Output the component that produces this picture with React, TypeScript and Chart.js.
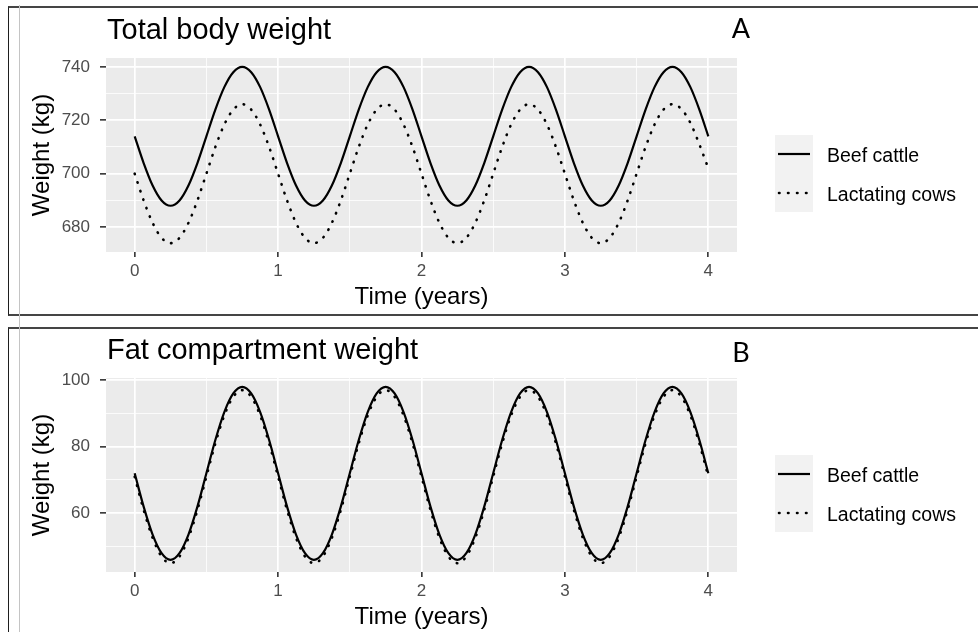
import React, { useEffect, useRef } from "react";
import { Chart, registerables } from "chart.js";

Chart.register(...registerables);

// ---------- data ----------
const timeYears = [
  0, 0.0625, 0.125, 0.1875, 0.25, 0.3125, 0.375, 0.4375,
  0.5, 0.5625, 0.625, 0.6875, 0.75, 0.8125, 0.875, 0.9375,
  1, 1.0625, 1.125, 1.1875, 1.25, 1.3125, 1.375, 1.4375,
  1.5, 1.5625, 1.625, 1.6875, 1.75, 1.8125, 1.875, 1.9375,
  2, 2.0625, 2.125, 2.1875, 2.25, 2.3125, 2.375, 2.4375,
  2.5, 2.5625, 2.625, 2.6875, 2.75, 2.8125, 2.875, 2.9375,
  3, 3.0625, 3.125, 3.1875, 3.25, 3.3125, 3.375, 3.4375,
  3.5, 3.5625, 3.625, 3.6875, 3.75, 3.8125, 3.875, 3.9375,
  4,
];

const beefTotal = [
  714, 704, 695.6, 690, 688, 690, 695.6, 704,
  714, 724, 732.4, 738, 740, 738, 732.4, 724,
  714, 704, 695.6, 690, 688, 690, 695.6, 704,
  714, 724, 732.4, 738, 740, 738, 732.4, 724,
  714, 704, 695.6, 690, 688, 690, 695.6, 704,
  714, 724, 732.4, 738, 740, 738, 732.4, 724,
  714, 704, 695.6, 690, 688, 690, 695.6, 704,
  714, 724, 732.4, 738, 740, 738, 732.4, 724,
  714,
];

const lactatingTotal = [
  700, 690, 681.6, 676, 674, 676, 681.6, 690,
  700, 710, 718.4, 724, 726, 724, 718.4, 710,
  700, 690, 681.6, 676, 674, 676, 681.6, 690,
  700, 710, 718.4, 724, 726, 724, 718.4, 710,
  700, 690, 681.6, 676, 674, 676, 681.6, 690,
  700, 710, 718.4, 724, 726, 724, 718.4, 710,
  700, 690, 681.6, 676, 674, 676, 681.6, 690,
  700, 710, 718.4, 724, 726, 724.2, 719, 711,
  702,
];

const beefFat = [
  72, 62, 53.6, 48, 46, 48, 53.6, 62,
  72, 82, 90.4, 96, 98, 96, 90.4, 82,
  72, 62, 53.6, 48, 46, 48, 53.6, 62,
  72, 82, 90.4, 96, 98, 96, 90.4, 82,
  72, 62, 53.6, 48, 46, 48, 53.6, 62,
  72, 82, 90.4, 96, 98, 96, 90.4, 82,
  72, 62, 53.6, 48, 46, 48, 53.6, 62,
  72, 82, 90.4, 96, 98, 96, 90.4, 82,
  72,
];

const lactatingFat = [
  71, 61, 52.6, 47, 45, 47, 52.6, 61,
  71, 81, 89.4, 95, 97, 95, 89.4, 81,
  71, 61, 52.6, 47, 45, 47, 52.6, 61,
  71, 81, 89.4, 95, 97, 95, 89.4, 81,
  71, 61, 52.6, 47, 45, 47, 52.6, 61,
  71, 81, 89.4, 95, 97, 95, 89.4, 81,
  71, 61, 52.6, 47, 45, 47, 52.6, 61,
  71, 81, 89.4, 95, 97, 95, 89.4, 81,
  71,
];

const seriesNames = ["Beef cattle", "Lactating cows"];

const xGridValues = [0, 0.5, 1, 1.5, 2, 2.5, 3, 3.5, 4];
const xLabelValues = [0, 1, 2, 3, 4];

const yGridTotal = [680, 690, 700, 710, 720, 730, 740];
const yLabelTotal = [680, 700, 720, 740];

const yGridFat = [50, 60, 70, 80, 90, 100];
const yLabelFat = [60, 80, 100];

const xAxisTitle = "Time (years)";
const yAxisTitle = "Weight (kg)";

// ---------- styling ----------
const FONT = '"Liberation Sans", Arial, Helvetica, sans-serif';
const CANVAS_W = 978;
const CANVAS_H = 312;
const TICK_FONT_SIZE = 17;

type PanelCfg = {
  title: string;
  tag: string;
  tagBaseline: number;
  beef: number[];
  lact: number[];
  yGrid: number[];
  yLabels: number[];
};

function expandRange(values: number[]) {
  const lo = Math.min(...values);
  const hi = Math.max(...values);
  const pad = (hi - lo) * 0.05;
  return [lo - pad, hi + pad];
}

const DOT_DASH = [0.5, 8.5];
const DOT_WIDTH = 2.6;

function decorPlugin(cfg: PanelCfg) {
  return {
    id: "panelDecor",
    beforeDraw(chart: any) {
      const { ctx, chartArea: a } = chart;
      ctx.save();
      ctx.fillStyle = "#ebebeb";
      ctx.fillRect(a.left, a.top, a.right - a.left, a.bottom - a.top);
      ctx.restore();
    },
    afterDraw(chart: any) {
      const { ctx, chartArea: a } = chart;
      ctx.save();
      // plot title
      ctx.fillStyle = "#000000";
      ctx.textAlign = "left";
      ctx.textBaseline = "alphabetic";
      ctx.font = `29px ${FONT}`;
      ctx.fillText(cfg.title, a.left + 1, 39);
      // panel tag
      ctx.font = "27px Lato, sans-serif";
      ctx.textAlign = "center";
      ctx.fillText(cfg.tag, 741, cfg.tagBaseline);

      // legend
      const keyX = 775;
      const keyTop = 135;
      ctx.fillStyle = "#f2f2f2";
      ctx.fillRect(keyX, keyTop, 38, 77);
      const rows = [154, 193];
      ctx.strokeStyle = "#000000";
      // solid key
      ctx.beginPath();
      ctx.lineWidth = 2.2;
      ctx.setLineDash([]);
      ctx.lineCap = "butt";
      ctx.moveTo(keyX + 3, rows[0]);
      ctx.lineTo(keyX + 35, rows[0]);
      ctx.stroke();
      // dotted key
      ctx.beginPath();
      ctx.lineWidth = DOT_WIDTH;
      ctx.setLineDash(DOT_DASH);
      ctx.lineCap = "round";
      ctx.moveTo(keyX + 4, rows[1]);
      ctx.lineTo(keyX + 35, rows[1]);
      ctx.stroke();
      ctx.setLineDash([]);

      ctx.fillStyle = "#000000";
      ctx.textAlign = "left";
      ctx.textBaseline = "alphabetic";
      ctx.font = `19.5px ${FONT}`;
      ctx.fillText(seriesNames[0], 827, 161.5);
      ctx.fillText(seriesNames[1], 827, 200.5);
      ctx.restore();
    },
  };
}

function Panel({ cfg, top }: { cfg: PanelCfg; top: number }) {
  const ref = useRef<HTMLCanvasElement | null>(null);

  useEffect(() => {
    if (!ref.current) return;
    const [yMin, yMax] = expandRange([...cfg.beef, ...cfg.lact]);
    const span = timeYears[timeYears.length - 1] - timeYears[0];
    const xMin = timeYears[0] - span * 0.05;
    const xMax = timeYears[timeYears.length - 1] + span * 0.05;

    const isMajorX = (v: number) => xLabelValues.includes(v);
    const isMajorY = (v: number) => cfg.yLabels.includes(v);

    const chart = new Chart(ref.current, {
      type: "line",
      data: {
        datasets: [
          {
            label: seriesNames[0],
            data: cfg.beef.map((y, i) => ({ x: timeYears[i], y })),
            borderColor: "#000000",
            borderWidth: 2.2,
            cubicInterpolationMode: "monotone",
            pointRadius: 0,
            fill: false,
          },
          {
            label: seriesNames[1],
            data: cfg.lact.map((y, i) => ({ x: timeYears[i], y })),
            borderColor: "#000000",
            borderWidth: DOT_WIDTH,
            borderDash: DOT_DASH,
            borderCapStyle: "round",
            cubicInterpolationMode: "monotone",
            pointRadius: 0,
            fill: false,
          },
        ],
      } as any,
      options: {
        animation: false,
        responsive: false,
        events: [],
        layout: { padding: { left: 24, top: 58, right: CANVAS_W - 737, bottom: 0 } },
        plugins: {
          legend: { display: false },
          tooltip: { enabled: false },
          title: { display: false },
        },
        scales: {
          x: {
            type: "linear",
            min: xMin,
            max: xMax,
            afterBuildTicks: (s: any) => {
              s.ticks = xGridValues.map((v) => ({ value: v }));
            },
            afterFit: (s: any) => {
              s.height = CANVAS_H - 252;
            },
            border: { display: false },
            grid: {
              color: "#ffffff",
              lineWidth: (c: any) => (c.tick && isMajorX(c.tick.value) ? 1.7 : 0.8),
              tickLength: 5,
              tickWidth: 1.6,
              tickColor: (c: any) => (c.tick && isMajorX(c.tick.value) ? "#333333" : "rgba(0,0,0,0)"),
            },
            ticks: {
              autoSkip: false,
              maxRotation: 0,
              minRotation: 0,
              padding: 4,
              color: "#4d4d4d",
              font: { family: FONT, size: TICK_FONT_SIZE },
              callback: (v: any) => (isMajorX(Number(v)) ? String(v) : ""),
            },
            title: {
              display: true,
              text: xAxisTitle,
              color: "#000000",
              font: { family: FONT, size: 24 },
              padding: { top: 0, bottom: 0 },
            },
          },
          y: {
            type: "linear",
            min: yMin,
            max: yMax,
            afterBuildTicks: (s: any) => {
              s.ticks = cfg.yGrid.map((v) => ({ value: v }));
            },
            afterFit: (s: any) => {
              s.width = 82;
            },
            border: { display: false },
            grid: {
              color: "#ffffff",
              lineWidth: (c: any) => (c.tick && isMajorY(c.tick.value) ? 1.7 : 0.8),
              tickLength: 6,
              tickWidth: 1.6,
              tickColor: (c: any) => (c.tick && isMajorY(c.tick.value) ? "#333333" : "rgba(0,0,0,0)"),
            },
            ticks: {
              autoSkip: false,
              padding: 10,
              color: "#4d4d4d",
              font: { family: FONT, size: TICK_FONT_SIZE },
              callback: (v: any) => (isMajorY(Number(v)) ? String(v) : ""),
            },
            title: {
              display: true,
              text: yAxisTitle,
              color: "#000000",
              font: { family: FONT, size: 24 },
              padding: { top: 4, bottom: 0 },
            },
          },
        },
      } as any,
      plugins: [decorPlugin(cfg)],
    });
    return () => chart.destroy();
  }, [cfg]);

  return (
    <canvas
      ref={ref}
      width={CANVAS_W}
      height={CANVAS_H}
      style={{ position: "fixed", left: 0, top, width: CANVAS_W, height: CANVAS_H, display: "block" }}
    />
  );
}

const panelA: PanelCfg = {
  title: "Total body weight",
  tag: "A",
  tagBaseline: 38.3,
  beef: beefTotal,
  lact: lactatingTotal,
  yGrid: yGridTotal,
  yLabels: yLabelTotal,
};

const panelB: PanelCfg = {
  title: "Fat compartment weight",
  tag: "B",
  tagBaseline: 41.7,
  beef: beefFat,
  lact: lactatingFat,
  yGrid: yGridFat,
  yLabels: yLabelFat,
};

export default function App() {
  return (
    <div>
      <div
        style={{
          position: "fixed",
          left: 8,
          top: 6,
          width: 970,
          height: 309.5,
          boxSizing: "border-box",
          borderTop: "2px solid #454545",
          borderBottom: "2px solid #454545",
          borderLeft: "1.5px solid #1e1e1e",
        }}
      />
      <div
        style={{
          position: "fixed",
          left: 8,
          top: 327,
          width: 970,
          height: 305,
          boxSizing: "border-box",
          borderTop: "2px solid #454545",
          borderLeft: "1.5px solid #1e1e1e",
        }}
      />
      <div
        style={{
          position: "fixed",
          left: 19,
          top: 5,
          width: 1,
          height: 627,
          background: "#c4c4c4",
        }}
      />
      <Panel cfg={panelA} top={0} />
      <Panel cfg={panelB} top={320} />
    </div>
  );
}
